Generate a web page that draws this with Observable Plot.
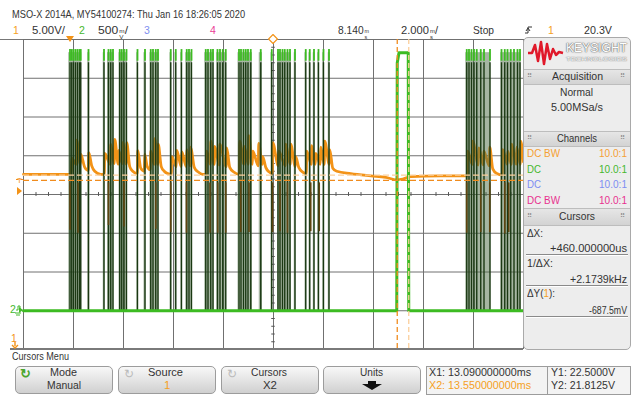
<!DOCTYPE html>
<html><head><meta charset="utf-8">
<script src="https://cdn.jsdelivr.net/npm/d3@7"></script>
<script src="https://cdn.jsdelivr.net/npm/@observablehq/plot@0.6"></script>
<style>
body{margin:0;background:#fff;width:631px;height:397px;overflow:hidden;position:relative;font-family:"Liberation Sans",Arial,sans-serif;color:#333;}
.a{position:absolute;white-space:nowrap;font-size:10.5px;line-height:12px;transform-origin:0 50%;}
.u{display:inline-flex;flex-direction:column;font-size:5.5px;line-height:5.5px;vertical-align:1px;margin-left:1px;}
#chart{position:absolute;left:0;top:0;}
.panel{position:absolute;left:523px;top:37px;width:106px;height:311px;border:1px solid #a9a9a9;border-radius:5px;background:#ededed;}
.hdr{position:absolute;left:524px;width:106px;background:linear-gradient(#e6e6e6,#d3d3d3);border-top:1px solid #bdbdbd;border-bottom:1px solid #bdbdbd;}
.g{position:absolute;font-size:7px;line-height:8px;color:#8a8a8a;}
.p{position:absolute;white-space:nowrap;font-size:11.5px;line-height:13px;transform-origin:0 50%;}
.sep{position:absolute;left:526px;width:102px;height:1px;background:#8a8a8a;border-bottom:1px solid #fff;}
.btn{position:absolute;top:366px;height:26px;width:96px;border:1px solid #9c9c9c;border-radius:5px;background:linear-gradient(#f8f8f8,#d0d0d0);}
.ic{position:absolute;font-size:12px;line-height:12px;color:#bbb;}
</style></head><body>
<div id="chart"></div>

<!-- header -->
<div class="a" data-w="233" style="left:12px;top:8px;">MSO-X 2014A, MY54100274: Thu Jan 16 18:26:05 2020</div>
<div class="a" style="left:13px;top:24px;color:#f5a023;">1</div>
<div class="a" data-w="33" style="left:32px;top:24px;">5.00V/</div>
<div class="a" style="left:79px;top:24px;color:#46b82d;">2</div>
<div class="a" data-w="30" style="left:98px;top:24px;">500<span class="u"><span>m</span><span>V</span></span>/</div>
<div class="a" style="left:144px;top:24px;color:#8090f0;">3</div>
<div class="a" style="left:210px;top:24px;color:#ea3c96;">4</div>
<div class="a" data-w="31" style="left:338px;top:24px;">8.140<span class="u"><span>m</span><span>s</span></span></div>
<div class="a" data-w="37" style="left:401px;top:24px;">2.000<span class="u"><span>m</span><span>s</span></span>/</div>
<div class="a" data-w="21" style="left:473px;top:24px;">Stop</div>
<svg style="position:absolute;left:524px;top:24px" width="10" height="12"><path d="M1,9 H4 V3 H8" fill="none" stroke="#333" stroke-width="1"/><path d="M2,7 L4,4 L6,7" fill="none" stroke="#333" stroke-width="1"/></svg>
<div class="a" style="left:548px;top:24px;color:#f5a023;">1</div>
<div class="a" data-w="28" style="left:584px;top:24px;">20.3V</div>
<div style="position:absolute;left:0;top:39px;width:23px;height:1px;background:#777;"></div>
<div style="position:absolute;left:10px;top:348px;width:513px;height:2px;background:#7a7a7a;"></div>

<!-- left markers -->
<div class="a" style="left:17px;top:177px;color:#f39317;font-size:8px;line-height:8px;">T</div>
<svg style="position:absolute;left:17px;top:187px" width="6" height="8"><path d="M0,0 L5,4 L0,8 Z" fill="#f39317"/></svg>
<div style="position:absolute;left:16px;top:179px;width:7px;height:0;border-top:1.3px dashed #f08c1e;"></div>
<div class="a" style="left:10px;top:303px;color:#46b82d;">2</div>
<svg style="position:absolute;left:15px;top:305px" width="8" height="12"><path d="M1,5 H3 V1 H5 V5 M0,8 H6 M1,10 H5" fill="none" stroke="#46b82d" stroke-width="1"/><path d="M4,2 L8,5 L4,8 Z" fill="#46b82d"/></svg>
<div class="a" style="left:11px;top:332px;color:#f39317;">1</div>
<svg style="position:absolute;left:11px;top:342px" width="8" height="7"><path d="M4,0 V4 M1,3 L4,6 L7,3" fill="none" stroke="#f39317" stroke-width="1.4"/></svg>
<svg style="position:absolute;left:66px;top:36px" width="9" height="7"><path d="M0,0 H8 L4,6 Z" fill="#f39317"/></svg>
<svg style="position:absolute;left:268px;top:34px" width="10" height="10"><path d="M5,0.5 L9.5,5 L5,9.5 L0.5,5 Z" fill="#fff" stroke="#f39317" stroke-width="1.2"/></svg>

<!-- right panel -->
<div class="panel"></div>
<svg style="position:absolute;left:526px;top:40px" width="40" height="26"><path d="M2,13 L6,13 L9,5 L12,21 L15,2 L18,24 L21,4 L24,19 L27,9 L30,15 L33,12 L37,13" fill="none" stroke="#e0192a" stroke-width="2.5" stroke-linejoin="round"/></svg>
<div class="p" data-w="61" style="left:566px;top:42px;font-size:12px;color:#fff;text-shadow:0 0 1px #666,0 0 1px #666,0 0 2px #999;">KEYSIGHT</div>
<div class="p" data-w="61" style="left:566px;top:55px;font-size:6px;line-height:8px;color:#fff;text-shadow:0 0 1px #777,0 0 1px #777;">TECHNOLOGIES</div>
<div class="hdr" style="top:69px;height:14px;"></div>
<div class="g" style="left:527px;top:72px;">⠿</div><div class="g" style="left:620px;top:72px;">⠿</div>
<div class="p" data-w="51" style="left:552px;top:70px;">Acquisition</div>
<div class="p" data-w="33" style="left:560px;top:86px;">Normal</div>
<div class="p" data-w="52" style="left:551px;top:101px;">5.00MSa/s</div>
<div class="hdr" style="top:131px;height:14px;"></div>
<div class="g" style="left:527px;top:134px;">⠿</div><div class="g" style="left:620px;top:134px;">⠿</div>
<div class="p" data-w="40" style="left:557px;top:132px;">Channels</div>
<div class="p" data-w="33" style="left:527px;top:147px;color:#f5a033;">DC BW</div><div class="p" data-w="28" style="left:599px;top:147px;color:#f5a033;">10.0:1</div>
<div class="p" data-w="14" style="left:527px;top:163px;color:#46b82d;">DC</div><div class="p" data-w="28" style="left:599px;top:163px;color:#46b82d;">10.0:1</div>
<div class="p" data-w="14" style="left:527px;top:178px;color:#7d8df2;">DC</div><div class="p" data-w="28" style="left:599px;top:178px;color:#7d8df2;">10.0:1</div>
<div class="p" data-w="33" style="left:527px;top:194px;color:#e8318f;">DC BW</div><div class="p" data-w="28" style="left:599px;top:194px;color:#e8318f;">10.0:1</div>
<div class="hdr" style="top:208px;height:16px;"></div>
<div class="g" style="left:527px;top:212px;">⠿</div><div class="g" style="left:620px;top:212px;">⠿</div>
<div class="p" data-w="36" style="left:559px;top:210px;">Cursors</div>
<div class="p" data-w="16" style="left:527px;top:227px;">ΔX:</div>
<div class="p" data-w="77" style="left:550px;top:242px;">+460.000000us</div>
<div class="sep" style="top:254px;"></div>
<div class="p" data-w="26" style="left:527px;top:257px;">1/ΔX:</div>
<div class="p" data-w="57" style="left:570px;top:273px;">+2.1739kHz</div>
<div class="sep" style="top:285px;"></div>
<div class="p" data-w="28" style="left:527px;top:287px;">ΔY(<span style="color:#f5a023">1</span>):</div>
<div class="p" data-w="38" style="left:589px;top:304px;">-687.5mV</div>
<div class="sep" style="top:316px;"></div>

<!-- bottom menu -->
<div class="a" data-w="57" style="left:12px;top:350px;">Cursors Menu</div>
<div class="btn" style="left:15px;"></div>
<div class="ic" style="left:20px;top:368px;color:#4aa52e;font-weight:bold;font-size:13px;">↻</div>
<div class="p" data-w="27" style="left:50px;top:366px;">Mode</div>
<div class="p" data-w="34" style="left:47px;top:379px;">Manual</div>
<div class="btn" style="left:118px;"></div>
<div class="ic" style="left:124px;top:368px;">↻</div>
<div class="p" data-w="35" style="left:148px;top:366px;">Source</div>
<div class="p" style="left:164px;top:379px;color:#f5a023;">1</div>
<div class="btn" style="left:221px;"></div>
<div class="ic" style="left:227px;top:368px;">↻</div>
<div class="p" data-w="36" style="left:251px;top:366px;">Cursors</div>
<div class="p" data-w="14" style="left:263px;top:379px;">X2</div>
<div class="btn" style="left:323px;"></div>
<div class="p" data-w="23" style="left:360px;top:366px;">Units</div>
<svg style="position:absolute;left:360px;top:381px" width="24" height="10"><path d="M8,0 H16 V3 H22 L12,9 L2,3 H8 Z" fill="#111"/></svg>
<div style="position:absolute;left:426px;top:366px;width:203px;height:27px;border:1px solid #9c9c9c;background:#f3f3f3;"></div>
<div style="position:absolute;left:547px;top:366px;width:1px;height:28px;background:#9c9c9c;"></div>
<div class="p" data-w="102" style="left:429px;top:366px;">X1: 13.090000000ms</div>
<div class="p" data-w="102" style="left:429px;top:379px;color:#f5a023;">X2: 13.550000000ms</div>
<div class="p" data-w="64" style="left:551px;top:366px;">Y1: 22.5000V</div>
<div class="p" data-w="64" style="left:551px;top:379px;">Y2: 21.8125V</div>

<script>
// fit the narrow instrument font widths
document.querySelectorAll("[data-w]").forEach(el => {
  const w = el.getBoundingClientRect().width;
  if (w > 0) el.style.transform = `scaleX(${(+el.dataset.w / w).toFixed(3)})`;
});

// ---- scope settings ----
const msPerDiv = 2.0;
const centerMs = 8.14;
const ch1VoltsPerDiv = 5.0;   // channel 1, ground at bottom (-4 div)
const ch2VoltsPerDiv = 0.5;   // channel 2, ground at -3 div
const ch1GroundDiv = -4;
const ch2GroundDiv = -3;

// cursors
const cursorX1 = 13.09, cursorX2 = 13.55;   // ms
const cursorY1 = 22.5, cursorY2 = 21.8125;  // V (ch1)

// ---- channel 1 (orange) trace: [ms, V] ----
const ch1Trace = [
[-1.86,22.6],[-0.05,22.6],[0.05,22.7],[0.07,24.7],[0.25,23.9],[0.27,27.0],[0.41,23.9],[0.43,25.2],[0.59,23.5],[0.73,23.1],[0.75,25.4],[0.87,23.7],[0.99,23.0],[1.23,22.6],
[1.37,22.6],[1.39,25.3],[1.61,23.9],[1.63,26.5],[1.77,24.0],[1.79,27.1],[1.93,23.9],[1.95,25.7],[2.09,24.0],[2.11,26.7],[2.25,23.9],[2.27,26.7],[2.39,23.6],[2.51,23.0],[2.69,22.7],
[2.71,25.7],[2.83,23.4],[2.97,23.0],[2.99,25.2],[3.09,23.6],[3.21,23.2],
[3.23,25.6],[3.37,23.9],[3.39,27.2],[3.51,23.9],[3.53,26.5],[3.65,23.6],[3.77,23.0],[3.91,22.7],[4.05,22.6],
[4.07,24.9],[4.25,23.6],[4.27,25.7],[4.45,23.6],[4.47,25.5],[4.65,23.6],[4.67,25.8],[4.81,23.7],[4.83,26.1],[4.97,23.5],[5.13,22.9],[5.31,22.6],[5.45,22.6],
[5.47,25.6],[5.61,23.9],[5.63,26.9],[5.77,23.9],[5.79,26.2],[5.97,23.8],[5.99,26.5],[6.25,23.6],[6.27,26.0],[6.39,23.5],[6.55,22.9],[6.77,22.6],
[6.79,26.9],[6.95,23.9],[6.97,26.2],[7.13,23.9],[7.15,27.6],[7.29,23.9],[7.31,25.6],[7.53,23.7],[7.55,26.6],[7.69,23.9],[7.71,24.9],[7.83,23.5],[7.97,22.9],[8.09,22.7],
[8.11,26.7],[8.33,23.7],[8.35,25.6],[8.61,23.7],[8.63,26.5],[8.81,23.9],[8.83,26.5],[9.01,23.6],[9.03,24.9],[9.15,23.5],[9.31,22.9],[9.45,22.7],
[9.47,25.6],[9.65,23.9],[9.67,26.3],[9.81,23.9],[9.83,25.3],[10.01,23.9],[10.03,26.1],[10.17,23.9],[10.19,26.9],[10.37,23.9],[10.39,25.8],[10.51,23.4],[10.67,23.0],
[11.23,22.7],[12.03,22.4],[12.63,22.2],[13.07,21.9],[13.31,22.0],[13.63,22.3],[14.83,22.4],[15.89,22.4],
[15.91,25.6],[16.09,23.9],[16.11,26.9],[16.33,23.8],[16.35,26.0],[16.53,23.8],[16.55,25.6],[16.77,23.7],[16.79,26.1],[16.91,23.3],[17.07,22.7],[17.29,22.5],
[17.31,25.8],[17.49,23.9],[17.51,25.6],[17.65,23.9],[17.67,26.5],[17.85,23.9],[17.87,26.1],[18.01,23.9],[18.03,26.9],[18.14,24.2]
];
// brief negative excursions of ch1: [ms, minimum V]
const ch1Dips = [
[0.0,15.4],[0.32,15.0],[1.54,16.0],[2.16,15.8],[3.43,15.5],[4.03,15.1],[4.66,15.0],[5.60,15.0],[5.91,15.0],[6.23,15.0],[6.83,15.1],
[7.16,15.1],[8.10,15.1],[8.40,15.2],[8.70,15.0],[9.63,15.2],[9.97,15.2],[15.87,15.0],[16.43,15.1],[16.79,15.1],[17.39,14.9],[17.55,15.1]
];

// ---- channel 2 (green) ----
const ch2High = 3.33; // V
const ch2Bursts = [
[-0.05,0.47],[0.71,0.79],[1.33,1.40],[1.50,1.76],[1.96,2.30],[2.67,2.74],[2.96,3.04],[3.20,3.56],[4.00,4.07],[4.20,4.27],[4.43,4.50],
[4.63,4.90],[5.39,5.77],[5.87,6.27],[6.72,7.30],[7.57,7.70],[8.04,8.11],[8.30,8.86],[8.97,9.04],[9.40,9.47],[9.56,9.63],[9.73,9.80],
[9.91,9.98],[10.11,10.18],[10.33,10.40],[15.83,16.83],[17.23,18.05]
];
const ch2Edges = [
0.0,0.07,0.14,0.22,0.30,0.38,0.43,0.74,1.36,1.54,1.63,1.72,1.99,2.07,2.16,2.26,2.70,3.00,3.23,3.32,3.43,3.52,4.03,4.23,4.46,
4.67,4.76,4.86,5.43,5.52,5.63,5.72,5.90,6.00,6.11,6.23,6.76,6.84,6.94,7.03,7.12,7.23,7.63,8.07,8.32,8.40,8.50,8.59,8.70,8.80,
9.00,9.43,9.59,9.76,9.94,10.14,10.36,15.87,15.96,16.06,16.16,16.27,16.43,16.56,16.80,17.26,17.39,17.50,17.63,17.76,17.90,18.00
];
const ch2Trace = [[-1.86,0],[13.07,0],[13.09,3.2],[13.16,3.33],[13.53,3.33],[13.55,0],[18.14,0]];

// ---- helpers ----
const ch1Div = v => v / ch1VoltsPerDiv + ch1GroundDiv;
const ch2Div = v => v / ch2VoltsPerDiv + ch2GroundDiv;
const xLeft = centerMs - 5 * msPerDiv, xRight = centerMs + 5 * msPerDiv;
const xGrid = d3.range(0, 11).map(i => xLeft + i * msPerDiv);
const yGrid = d3.range(-4, 5);
const xMinor = d3.range(0, 41).map(i => xLeft + i * msPerDiv / 4);
const yMinor = d3.range(0, 41).map(i => -4 + i / 5);
const gridColor = "#707070";

const chart = Plot.plot({
  width: 631, height: 397,
  marginTop: 39, marginBottom: 48, marginLeft: 23, marginRight: 108,
  x: {domain: [xLeft, xRight], axis: null},
  y: {domain: [-4, 4], axis: null},
  style: {background: "transparent", overflow: "visible"},
  marks: [
    Plot.ruleX(xGrid, {x: d => d, stroke: gridColor, strokeWidth: 1}),
    Plot.ruleY(yGrid, {y: d => d, stroke: gridColor, strokeWidth: 1}),
    Plot.ruleX(xMinor, {x: d => d, y1: -0.05, y2: 0.05, stroke: "#555"}),
    Plot.ruleY(yMinor, {y: d => d, x1: centerMs - 0.07, x2: centerMs + 0.07, stroke: "#555"}),
    Plot.line(ch1Trace, {x: d => d[0], y: d => ch1Div(d[1]), stroke: "#f39317", strokeWidth: 2.8, curve: "monotone-x"}),
    Plot.rect(ch2Bursts, {x1: d => d[0], x2: d => d[1], y1: ch2Div(0), y2: ch2Div(ch2High), fill: "#4d6d46", fillOpacity: 0.5}),
    Plot.ruleX(ch2Edges, {x: d => d, y1: ch2Div(0), y2: ch2Div(3.2), stroke: "#1a3812", strokeWidth: 1.4}),
    Plot.ruleX(ch1Dips, {x: d => d[0], y1: d => ch1Div(21.5), y2: d => ch1Div(d[1]), stroke: "#5e4410", strokeWidth: 1.6}),
    Plot.ruleX(ch2Edges, {x: d => d, y1: ch2Div(3.22), y2: ch2Div(3.37), stroke: "#3dbb22", strokeWidth: 1.8}),
    Plot.line(ch2Trace, {x: d => d[0], y: d => ch2Div(d[1]), stroke: "#3dbb22", strokeWidth: 3}),
    Plot.ruleY([cursorY1], {y: d => ch1Div(d), stroke: "#fbcf9c", strokeWidth: 1.3, strokeDasharray: "6,3"}),
    Plot.ruleY([cursorY2], {y: d => ch1Div(d), stroke: "#f08c1e", strokeWidth: 1.3, strokeDasharray: "6,3"}),
    Plot.ruleX([cursorX1], {x: d => d, stroke: "#f08c1e", strokeWidth: 1.3, strokeDasharray: "5,3"}),
    Plot.ruleX([cursorX2], {x: d => d, stroke: "#fbcf9c", strokeWidth: 1.3, strokeDasharray: "5,3"})
  ]
});
document.getElementById("chart").appendChild(chart);
</script>
</body></html>
